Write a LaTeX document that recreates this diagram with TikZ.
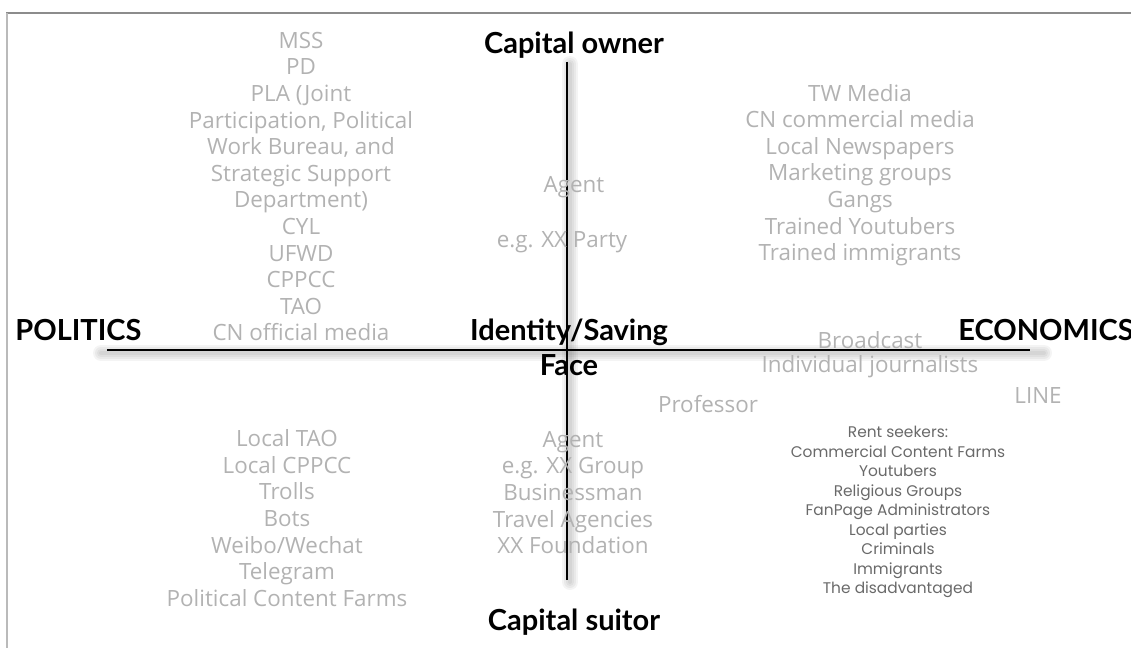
\documentclass[tikz,border=0pt]{standalone}
\usepackage{fontspec}
\setmainfont{Open Sans}
\newfontfamily\headfont{Lato}
\newfontfamily\rentfont{Poppins}
\usepackage{xcolor}
\usetikzlibrary{positioning}

\definecolor{softgray}{RGB}{178,178,178}
\definecolor{rentgray}{RGB}{105,105,105}
\definecolor{framegray}{RGB}{140,140,140}

\begin{document}
\begin{tikzpicture}[x=0.5pt, y=-0.5pt,
  heading/.style={font=\headfont\bfseries\fontsize{14.5}{17.5}\selectfont, text=black, inner sep=0pt, align=center},
  member/.style={font=\fontsize{11.2}{13.3}\selectfont, text=softgray, align=center, inner sep=0pt},
  renter/.style={font=\rentfont\fontsize{7.7}{9.75}\selectfont, text=rentgray, align=center, inner sep=0pt},
  axisline/.style={line width=1.3pt, black},
  haze/.style={line width=#1, black, opacity=0.045, line cap=round}]
  \useasboundingbox (0,0) rectangle (1131,648);

  % slide edge
  \draw[framegray, line width=0.8pt] (6,13) -- (1131,13);
  \draw[framegray!60, line width=0.6pt] (7,13) -- (7,648);

  % axis ends
  \coordinate (top) at (567,62);
  \coordinate (bottom) at (567,580);
  \coordinate (left) at (107,350);
  \coordinate (right) at (1030,350);

  % soft shadows under the axes
  \foreach \w in {2,4,6,8} {
    \draw[haze=\w pt, shorten <=-4pt, shorten >=-6pt] ([shift={(2,3)}]left) -- ([shift={(2,3)}]right);
    \draw[haze=\w pt] ([shift={(3,2)}]top) -- ([shift={(3,2)}]bottom);
  }
  \draw[axisline] (top) -- (bottom);
  \draw[axisline] (left) -- (right);

  % axis labels
  \node[heading] (owner) at (574,45) {Capital owner};
  \node[heading] (suitor) at (574,622) {Capital suitor};
  \node[heading, anchor=west] (politics) at (15,330) {POLITICS};
  \node[heading, anchor=west] (economics) at (958,330) {ECONOMICS};
  \node[heading] (face) at (569,347.5) {Identity/Saving\\Face};

  % upper left: politics, capital owner
  \node[member] (state) at (301,186.5) {MSS\\PD\\PLA (Joint\\Participation, Political\\Work Bureau, and\\Strategic Support\\Department)\\CYL\\UFWD\\CPPCC\\TAO\\CN official media};

  % agents near the vertical axis
  \node[member] (agent) at (574,187) {Agent};
  \node[member] (party) at (562,242) {e.g. XX Party};
  \node[member] (suitors) at (573,492.5) {Agent\\e.g. XX Group\\Businessman\\Travel Agencies\\XX Foundation};

  % upper right: economics, capital owner
  \node[member] (media) at (860,175) {TW Media\\CN commercial media\\Local Newspapers\\Marketing groups\\Gangs\\Trained Youtubers\\Trained immigrants};

  % lower right
  \node[member] (broadcast) at (870,340) {Broadcast};
  \node[member] (journalists) at (870,367) {Individual journalists};
  \node[member] (professor) at (708,404) {Professor};
  \node[member] (line) at (1038,396) {LINE};
  \node[renter] (rent) at (898,512) {Rent seekers:\\Commercial Content Farms\\Youtubers\\Religious Groups\\FanPage Administrators\\Local parties\\Criminals\\Immigrants\\The disadvantaged};

  % lower left
  \node[member] (local) at (287,518) {Local TAO\\Local CPPCC\\Trolls\\Bots\\Weibo/Wechat\\Telegram\\Political Content Farms};
\end{tikzpicture}
\end{document}
